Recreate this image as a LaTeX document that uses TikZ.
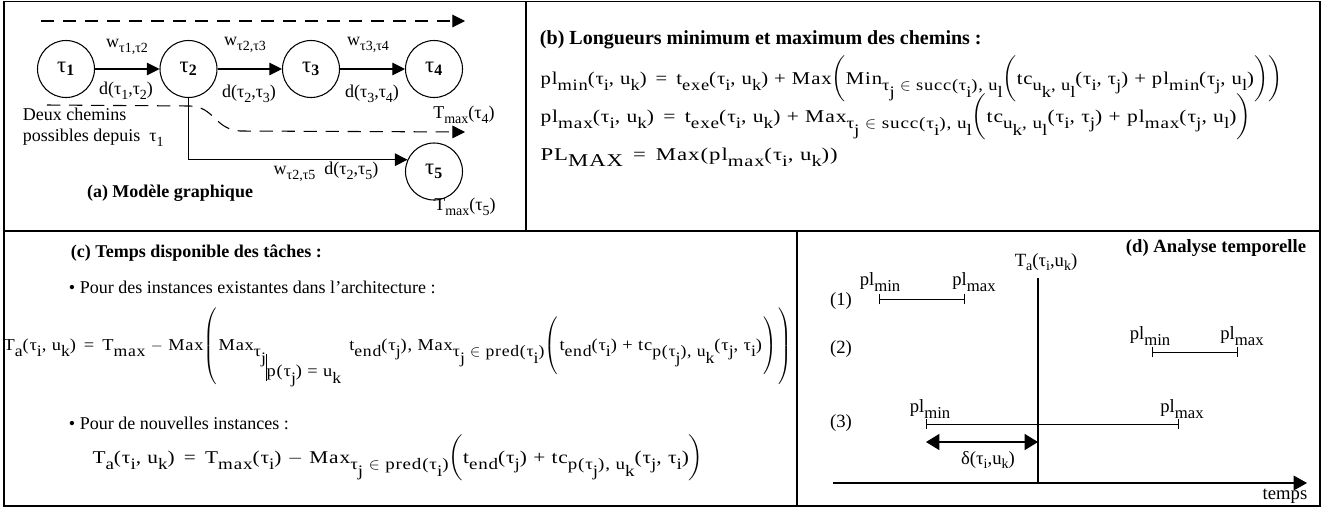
\documentclass[tikz,border=0pt]{standalone}
\usepackage{amsmath}
\usepackage{graphicx}
\usepackage{fontspec}
\setmainfont{Liberation Serif}
\newfontfamily\eqfont[LetterSpace=5,FakeStretch=1.15]{Liberation Serif}
\usetikzlibrary{arrows.meta}

% indices
\newcommand{\ix}[1]{\raisebox{-3.5pt}{\fontsize{10.5}{11}\selectfont#1}}
\newcommand{\ixd}[1]{\raisebox{-4pt}{\fontsize{12.5}{13}\selectfont#1}}
\newcommand{\lo}[1]{\raisebox{-5pt}{\fontsize{12}{12}\selectfont#1}}
\newcommand{\lpar}[2]{$\left(\rule[-#1]{0pt}{#2}\right.$}
\newcommand{\rpar}[2]{$\left.\rule[-#1]{0pt}{#2}\right)$}

\begin{document}
\begin{tikzpicture}[x=0.75pt, y=-0.75pt, line width=0.8pt,
  font=\fontsize{13.5}{16}\selectfont,
  task/.style={circle, draw, minimum size=42.75pt, inner sep=0pt, font=\fontsize{17}{19}\selectfont},
  arr/.style={-{Triangle[length=9.5pt,width=9.5pt]}},
  chemin/.style={dash pattern=on 10pt off 6.5pt, arr},
  eq/.style={anchor=base west, inner sep=0pt, font=\fontsize{13.5}{15}\eqfont},
  plseg/.style={{Bar[width=8pt]}-{Bar[width=8pt]}, line width=0.6pt},
  dfont/.style={font=\fontsize{14}{16}\selectfont}]
\useasboundingbox (0,0) rectangle (1330,508);

% cadres
\draw[line width=1.1pt] (4,1.5) rectangle (1320,506);
\draw[line width=1.1pt] (4,231) -- (1320,231);
\draw (526,1.5) -- (526,231);
\draw (797,231) -- (797,506);

% (a) graphe
\node[task] (t1) at (66,69) {τ\textsubscript{\textbf{1}}};
\node[task] (t2) at (188.5,69) {τ\textsubscript{\textbf{2}}};
\node[task] (t3) at (311,69) {τ\textsubscript{\textbf{3}}};
\node[task] (t4) at (434,69) {τ\textsubscript{\textbf{4}}};
\node[task] (t5) at (434,171.5) {τ\textsubscript{\textbf{5}}};
\draw[arr] (t1) -- (t2);
\draw[arr] (t2) -- (t3);
\draw[arr] (t3) -- (t4);
\draw[arr] (t2.south) |- (t5.156);

\node (w12) at (127,47) {w\ix{τ1,τ2}};
\node (w23) at (245,45) {w\ix{τ2,τ3}};
\node (w34) at (368,45) {w\ix{τ3,τ4}};
\node (d12) at (126,91) {d(τ\ix{1},τ\ix{2})};
\node (d23) at (249,94) {d(τ\ix{2},τ\ix{3})};
\node (d34) at (372,94) {d(τ\ix{3},τ\ix{4})};
\node (tm4) at (464,115) {T\ix{max}(τ\ix{4})};
\node (tm5) at (465,207) {T\ix{max}(τ\ix{5})};
\node (wd25) at (326,172) {w\ix{τ2,τ5}\enspace d(τ\ix{2},τ\ix{5})};

% deux chemins
\coordinate (c1a) at (41,21);
\coordinate (c1b) at (465,21);
\draw[chemin] (c1a) -- (c1b);
\coordinate (c2a) at (47,105);
\coordinate (c2b) at (465,132);
\draw[chemin] (c2a) -- (190,106) .. controls (215,107) and (214,129) .. (240,131) -- (c2b);
\node[anchor=west, align=left] (deux) at (18,127) {Deux chemins\\ possibles depuis\enspace τ\ix{1}};
\node[font=\fontsize{13.5}{16}\selectfont\bfseries] (capa) at (170,193) {(a) Modèle graphique};

% (b) longueurs
\node[anchor=west, font=\fontsize{15}{17}\selectfont\bfseries] (capb) at (535,40) {(b) Longueurs minimum et maximum des chemins :};
\node[eq] (plmin) at (540,84) {pl\lo{min}(τ\lo{i}, u\lo{k})\enspace=\enspace t\lo{exe}(τ\lo{i}, u\lo{k}) + Max$\biggl($Min\lo{τ\lo{j} $\in$ succ(τ\lo{i}), u\lo{l}}$\biggl($tc\lo{u\lo{k}, u\lo{l}}(τ\lo{i}, τ\lo{j}) + pl\lo{min}(τ\lo{j}, u\lo{l})$\biggr)\biggr)$};
\node[eq] (plmax) at (540,122) {\scalebox{1.04}[1]{pl\lo{max}(τ\lo{i}, u\lo{k})\enspace=\enspace t\lo{exe}(τ\lo{i}, u\lo{k}) + Max\lo{τ\lo{j} $\in$ succ(τ\lo{i}), u\lo{l}}$\biggl($tc\lo{u\lo{k}, u\lo{l}}(τ\lo{i}, τ\lo{j}) + pl\lo{max}(τ\lo{j}, u\lo{l})$\biggr)$}};
\node[eq] (plmx) at (540,160) {\scalebox{1.1}[1]{PL\raisebox{-5pt}{MAX}\enspace=\enspace Max(pl\lo{max}(τ\lo{i}, u\lo{k}))}};

% (c) temps disponible
\node[anchor=west, font=\fontsize{13.5}{16}\selectfont\bfseries] (capc) at (66,253) {(c) Temps disponible des tâches :};
\node[anchor=west] (puce1) at (64,287) {\textbullet\ Pour des instances existantes dans l’architecture :};
\node[eq, font=\fontsize{12.5}{14}\eqfont] (ta1) at (3,350) {\scalebox{0.96}[1]{T\lo{a}(τ\lo{i}, u\lo{k})\enspace=\enspace T\lo{max} $-$ Max\lpar{28pt}{61pt}Max\lo{τ\lo{j}}\raisebox{-23pt}{\rule{0.6pt}{20pt}}\raisebox{-20pt}{p(τ\lo{j}) = u\lo{k}}\enspace t\lo{end}(τ\lo{j}), Max\lo{τ\lo{j} $\in$ pred(τ\lo{i})}\lpar{20pt}{44pt}t\lo{end}(τ\lo{i}) + tc\lo{p(τ\lo{j}), u\lo{k}}(τ\lo{j}, τ\lo{i})\rpar{20pt}{44pt}\rpar{28pt}{61pt}}};
\node[anchor=west] (puce2) at (64,423) {\textbullet\ Pour de nouvelles instances :};
\node[eq] (ta2) at (92,463) {\scalebox{1.03}[1]{T\lo{a}(τ\lo{i}, u\lo{k})\enspace=\enspace T\lo{max}(τ\lo{i}) $-$ Max\lo{τ\lo{j} $\in$ pred(τ\lo{i})}$\biggl($t\lo{end}(τ\lo{j}) + tc\lo{p(τ\lo{j}), u\lo{k}}(τ\lo{j}, τ\lo{i})$\biggr)$}};

% (d) analyse temporelle
\node[dfont, font=\fontsize{14}{16}\selectfont\bfseries] (capd) at (1216,248) {(d) Analyse temporelle};
\node[dfont] (ta) at (1046,262) {T\ix{a}(τ\ix{i},u\ix{k})};
\coordinate (vt) at (1038,278);
\coordinate (vb) at (1038,483);
\draw (vt) -- (vb);
\coordinate (ax0) at (833,483);
\coordinate (ax1) at (1307,483);
\draw[-{Triangle[length=10pt,width=11pt]}] (ax0) -- (ax1);
\node[dfont] (temps) at (1285,496) {temps};

\node[dfont] (r1) at (841,301) {(1)};
\node[dfont] (r2) at (841,349) {(2)};
\node[dfont] (r3) at (841,423) {(3)};

\coordinate (a1) at (879,299);
\coordinate (b1) at (965,299);
\draw[plseg] (a1) -- (b1);
\node[dfont] (mn1) at (880,282) {pl\ixd{min}};
\node[dfont] (mx1) at (974,282) {pl\ixd{max}};

\coordinate (a2) at (1152,352);
\coordinate (b2) at (1238,352);
\draw[plseg] (a2) -- (b2);
\node[dfont] (mn2) at (1150,336) {pl\ixd{min}};
\node[dfont] (mx2) at (1242,336) {pl\ixd{max}};

\coordinate (a3) at (926,424);
\coordinate (b3) at (1179,424);
\draw[plseg] (a3) -- (b3);
\node[dfont] (mn3) at (930,409) {pl\ixd{min}};
\node[dfont] (mx3) at (1182,409) {pl\ixd{max}};

\coordinate (da) at (926,442);
\coordinate (db) at (1038,442);
\draw[line width=1pt, {Triangle[length=10pt,width=12pt]}-{Triangle[length=10pt,width=12pt]}] (da) -- (db);
\node[dfont] (delta) at (988,460) {δ(τ\ix{i},u\ix{k})};
\end{tikzpicture}
\end{document}
